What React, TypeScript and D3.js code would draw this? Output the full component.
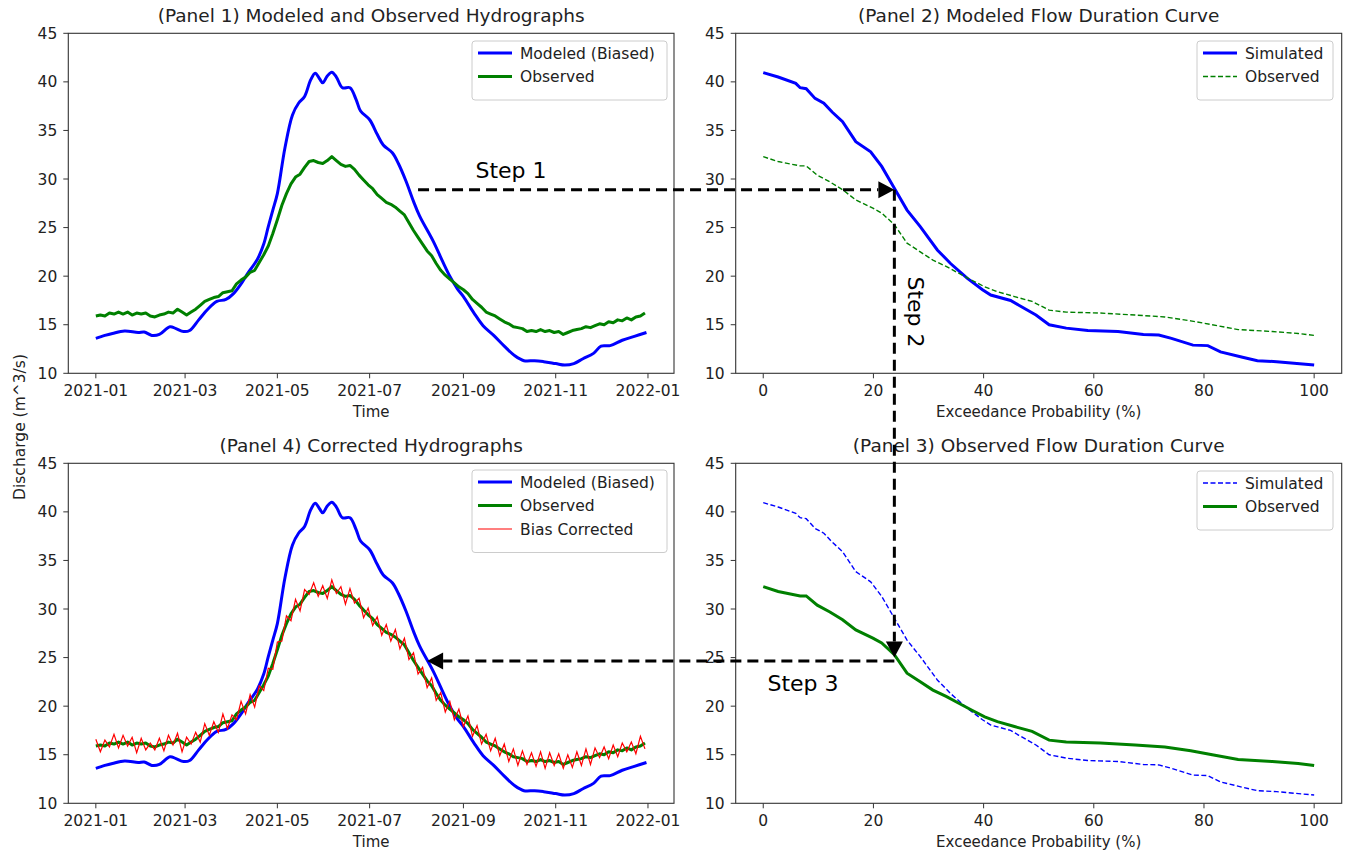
import React from 'react';
import * as d3 from 'd3';

const W = 1346;
const H = 852;
const FONT = "'DejaVu Sans', sans-serif";
const TXT = '#222';

// ---------- DATA ----------
const startDate = '2021-01-01';
const endDate = '2021-12-31';
const seriesStepDays = 3;

// Observed discharge, every 3 days from 2021-01-01
const observed = [
  15.9, 16.0, 15.9, 16.2, 16.1, 16.3, 16.1, 16.3, 16.0, 16.2,
  16.1, 16.2, 15.9, 15.8, 16.0, 16.1, 16.3, 16.2, 16.6, 16.3,
  16.0, 16.3, 16.6, 17.0, 17.4, 17.6, 17.8, 17.9, 18.3, 18.4,
  18.5, 19.2, 19.6, 19.9, 20.4, 20.6, 21.4, 22.2, 23.1, 24.4,
  25.8, 27.3, 28.5, 29.5, 30.2, 30.5, 31.2, 31.8, 31.9, 31.7,
  31.6, 31.9, 32.3, 31.9, 31.5, 31.3, 31.4, 31.0, 30.4, 29.9,
  29.4, 29.0, 28.4, 28.0, 27.6, 27.4, 27.1, 26.7, 26.3, 25.5,
  24.7, 24.0, 23.3, 22.6, 22.1, 21.3, 20.6, 20.1, 19.7, 19.3,
  18.9, 18.6, 18.2, 17.6, 17.2, 16.8, 16.3, 16.1, 15.9, 15.6,
  15.3, 15.1, 14.8, 14.7, 14.6, 14.3, 14.4, 14.3, 14.5, 14.3,
  14.4, 14.2, 14.3, 14.0, 14.2, 14.4, 14.5, 14.6, 14.8, 14.7,
  14.9, 15.1, 15.0, 15.3, 15.2, 15.5, 15.4, 15.7, 15.5, 15.8,
  15.9, 16.2,
];

// Bias-corrected discharge, every 3 days from 2021-01-01
const biasCorrected = [
  16.6, 15.3, 16.5, 15.8, 17.1, 15.7, 17.0, 15.9, 16.8, 15.2,
  16.7, 15.5, 16.2, 15.5, 16.7, 15.4, 17.0, 16.0, 17.2, 15.3,
  16.8, 16.1, 17.3, 16.3, 18.2, 17.0, 18.4, 17.3, 19.2, 17.7,
  19.1, 18.6, 20.5, 19.2, 21.2, 19.9, 22.1, 21.6, 23.9, 23.8,
  26.6, 26.7, 29.3, 28.8, 31.0, 29.8, 32.0, 31.5, 32.7, 31.3,
  32.4, 31.1, 33.0, 31.6, 32.3, 30.5, 32.1, 30.6, 31.1, 29.1,
  30.1, 28.3, 29.2, 27.3, 28.4, 26.7, 27.9, 25.9, 27.0, 24.8,
  25.5, 23.3, 24.0, 21.9, 22.9, 20.6, 21.4, 19.4, 20.5, 18.6,
  19.7, 17.9, 19.0, 16.9, 18.0, 16.1, 17.1, 15.4, 16.7, 14.9,
  16.1, 14.3, 15.6, 13.9, 15.4, 14.0, 15.2, 13.8, 15.3, 13.6,
  15.2, 13.9, 15.1, 13.6, 15.0, 13.7, 15.3, 13.9, 15.6, 14.0,
  15.7, 14.7, 15.8, 14.6, 16.0, 14.8, 16.2, 15.3, 16.3, 15.1,
  16.9, 15.6,
];

// Modeled (biased) discharge: day of year and value
const modeledDays = [
  0, 6, 11, 19, 28, 32, 37, 42, 49, 53, 58, 62, 68, 74, 80, 86, 91, 96, 100, 107,
  111, 114, 117, 120, 125, 130, 134, 138, 142, 145, 148, 150, 153, 156, 159, 163, 168, 172, 175, 181,
  186, 190, 196, 200, 205, 210, 214, 223, 229, 234, 239, 243, 250, 256, 263, 270, 277, 283, 290, 296,
  304, 310, 316, 322, 329, 334, 340, 348, 356, 364,
];
const modeledValues = [
  13.6, 13.9, 14.1, 14.35, 14.2, 14.25, 13.9, 14.0, 14.8, 14.6, 14.3, 14.4, 15.5, 16.6, 17.4, 17.6, 18.2, 19.2, 20.2, 21.8,
  23.3, 25.1, 26.8, 28.5, 33.2, 36.6, 37.8, 38.5, 40.2, 40.9, 40.3, 39.9, 40.6, 41.0, 40.5, 39.4, 39.4, 38.2, 37.0, 36.1,
  34.6, 33.5, 32.7, 31.6, 29.8, 27.7, 26.2, 23.6, 21.6, 20.0, 18.7, 17.9, 16.2, 14.9, 13.9, 12.8, 11.8, 11.3, 11.3, 11.2,
  11.0, 10.85, 11.0, 11.5, 12.05, 12.8, 12.85, 13.4, 13.8, 14.2,
];

// Flow duration curves
const simFdcPct = [
  0, 2.7, 5.9, 6.7, 7.8, 9.4, 11, 12.5, 14.4, 16.8, 19.5, 21.5, 23.8, 26.1, 28.5, 31.6, 34, 37, 39.8,
  41.3, 44.9, 46.4, 49.5, 51.9, 55, 58.9, 64.4, 69, 71.8, 74.1, 78, 80.7, 83, 87, 89.7, 93.2, 100,
];
const simFdcVal = [
  40.95, 40.5, 39.85, 39.4, 39.3, 38.3, 37.8, 36.9, 35.9, 33.85, 32.8, 31.3, 29.05, 26.8, 25.1, 22.7, 21.3, 19.8, 18.6,
  18.06, 17.5, 17.0, 16.0, 15.0, 14.65, 14.4, 14.3, 14.0, 13.95, 13.6, 12.9, 12.85, 12.2, 11.65, 11.3, 11.2, 10.85,
];
const obsFdcPct = [
  0, 2.7, 6.7, 7.8, 9.8, 12.1, 14.4, 16.8, 19.9, 21.5, 23.8, 26.1, 28.5, 30.8, 33.2, 35.5, 37.8, 40.2,
  42.5, 45.6, 48.8, 51.9, 55, 61.2, 67.5, 72.9, 77.6, 81.5, 86.2, 92.4, 97.1, 100,
];
const obsFdcVal = [
  32.3, 31.8, 31.35, 31.35, 30.4, 29.7, 28.9, 27.85, 27.0, 26.5, 25.3, 23.4, 22.5, 21.65, 21.0, 20.3, 19.6, 18.9,
  18.4, 17.9, 17.4, 16.5, 16.3, 16.2, 16.0, 15.8, 15.4, 15.0, 14.5, 14.3, 14.1, 13.9,
];

// Ticks
const yTicks = [10, 15, 20, 25, 30, 35, 40, 45];
const dateTicks = ['2021-01-01', '2021-03-01', '2021-05-01', '2021-07-01', '2021-09-01', '2021-11-01', '2022-01-01'];
const pctTicks = [0, 20, 40, 60, 80, 100];

// Step annotations
const step1 = { fromDate: '2021-08-02', value: 28.9, toPct: 23.8 };
const step2 = { pct: 23.8, toValue: 25.0 };
const step3 = { value: 24.65, toDate: '2021-08-08' };

// ---------- LAYOUT ----------
const L = { x0: 68.3, x1: 674 };
const R = { x0: 735.7, x1: 1341.7 };
const T = { y0: 33.3, y1: 373.3 };
const B = { y0: 463.3, y1: 803.3 };

const BLUE = '#0000ff';
const GREEN = '#008000';
const RED = '#ff0000';

const parse = (s: string) => {
  const [y, m, d] = s.split('-').map(Number);
  return new Date(y, m - 1, d);
};
const addDays = (d: Date, n: number) => new Date(d.getFullYear(), d.getMonth(), d.getDate() + n);

const t0 = parse(startDate);
const t1 = parse(endDate);
const span = t1.getTime() - t0.getTime();
const dateDomain = [new Date(t0.getTime() - span * 0.05), new Date(t1.getTime() + span * 0.05)];

const xDateL = d3.scaleTime().domain(dateDomain).range([L.x0, L.x1]);
const xPctR = d3.scaleLinear().domain([-5, 105]).range([R.x0, R.x1]);
const yTop = d3.scaleLinear().domain([10, 45]).range([T.y1, T.y0]);
const yBot = d3.scaleLinear().domain([10, 45]).range([B.y1, B.y0]);

type Pt = [number, number];

const obsPts = (xs: any) => observed.map((v, i) => [xs(addDays(t0, i * seriesStepDays)), v] as Pt);
const corrPts = (xs: any) => biasCorrected.map((v, i) => [xs(addDays(t0, i * seriesStepDays)), v] as Pt);
const modPts = (xs: any) => modeledValues.map((v, i) => [xs(addDays(t0, modeledDays[i])), v] as Pt);

function path(pts: Pt[], ys: any, curve: any = d3.curveLinear) {
  return d3.line<Pt>().x((p) => p[0]).y((p) => ys(p[1])).curve(curve)(pts) || '';
}

function Axes(props: any) {
  const { x0, x1, y0, y1, ys, xTicks, title, xlabel, id, children } = props;
  return (
    <g>
      <defs>
        <clipPath id={id}>
          <rect x={x0} y={y0} width={x1 - x0} height={y1 - y0} />
        </clipPath>
      </defs>
      <g clipPath={`url(#${id})`}>{children}</g>
      <rect x={x0} y={y0} width={x1 - x0} height={y1 - y0} fill="none" stroke="#333" strokeWidth={1.1} />
      {yTicks.map((t) => (
        <g key={'y' + t}>
          <line x1={x0 - 5} x2={x0} y1={ys(t)} y2={ys(t)} stroke="#333" strokeWidth={1} />
          <text x={x0 - 11} y={ys(t)} dy="0.36em" textAnchor="end" fontSize={15.5} fill={TXT}>
            {t}
          </text>
        </g>
      ))}
      {xTicks.map((t: any) => (
        <g key={'x' + t.label}>
          <line x1={t.x} x2={t.x} y1={y1} y2={y1 + 5} stroke="#333" strokeWidth={1} />
          <text x={t.x} y={y1 + 23} textAnchor="middle" fontSize={15.5} fill={TXT}>
            {t.label}
          </text>
        </g>
      ))}
      <text x={(x0 + x1) / 2} y={y0 - 11} textAnchor="middle" fontSize={18.5} fill={TXT}>
        {title}
      </text>
      <text x={(x0 + x1) / 2} y={y1 + 43.5} textAnchor="middle" fontSize={15} fill={TXT}>
        {xlabel}
      </text>
    </g>
  );
}

function Legend(props: any) {
  const { x, y, w, items } = props;
  const rowH = 23.5;
  const h = 12 + items.length * rowH;
  return (
    <g>
      <rect x={x} y={y} width={w} height={h} rx={3} fill="white" fillOpacity={0.8} stroke="#ccc" strokeWidth={1} />
      {items.map((it: any, i: number) => {
        const cy = y + 12 + i * rowH;
        return (
          <g key={it.label}>
            <line x1={x + 6} x2={x + 40} y1={cy} y2={cy} stroke={it.color} strokeWidth={it.width} strokeDasharray={it.dash || null} />
            <text x={x + 48} y={cy} dy="0.36em" fontSize={15.5} fill={TXT}>
              {it.label}
            </text>
          </g>
        );
      })}
    </g>
  );
}

function Arrow(props: any) {
  const { x1, y1, x2, y2 } = props;
  const dx = x2 - x1;
  const dy = y2 - y1;
  const len = Math.hypot(dx, dy);
  const ux = dx / len;
  const uy = dy / len;
  const hl = 16;
  const hw = 8.5;
  const bx = x2 - ux * hl;
  const by = y2 - uy * hl;
  const pts = [
    [x2, y2],
    [bx - uy * hw, by + ux * hw],
    [bx + uy * hw, by - ux * hw],
  ];
  return (
    <g>
      <line x1={x1} y1={y1} x2={bx} y2={by} stroke="black" strokeWidth={3} strokeDasharray="11,6" />
      <polygon points={pts.map((p) => p.join(',')).join(' ')} fill="black" />
    </g>
  );
}

export default function App() {
  const dateTickObjs = dateTicks.map((s) => ({ x: xDateL(parse(s)), label: s.slice(0, 7) }));
  const pctTickObjs = pctTicks.map((p) => ({ x: xPctR(p), label: String(p) }));
  const simFdc = simFdcPct.map((p, i) => [xPctR(p), simFdcVal[i]] as Pt);
  const obsFdc = obsFdcPct.map((p, i) => [xPctR(p), obsFdcVal[i]] as Pt);

  const s1y = yTop(step1.value);
  const s1x0 = xDateL(parse(step1.fromDate));
  const s1x1 = xPctR(step1.toPct);
  const s2x = xPctR(step2.pct);
  const s2y1 = yBot(step2.toValue);
  const s3y = yBot(step3.value);
  const s3x1 = xDateL(parse(step3.toDate));

  return (
    <svg width={W} height={H} style={{ position: 'absolute', left: 0, top: 0, background: 'white' }} fontFamily={FONT}>
      <rect width={W} height={H} fill="white" />
      {/* Panel 1 */}
      <Axes id="c1" x0={L.x0} x1={L.x1} y0={T.y0} y1={T.y1} ys={yTop} xTicks={dateTickObjs}
        title="(Panel 1) Modeled and Observed Hydrographs" xlabel="Time">
        <path d={path(modPts(xDateL), yTop, d3.curveCatmullRom)} fill="none" stroke={BLUE} strokeWidth={3} />
        <path d={path(obsPts(xDateL), yTop)} fill="none" stroke={GREEN} strokeWidth={3} strokeLinejoin="round" />
      </Axes>
      <Legend x={472} y={41} w={195} items={[
        { label: 'Modeled (Biased)', color: BLUE, width: 3 },
        { label: 'Observed', color: GREEN, width: 3 },
      ]} />

      {/* Panel 2 */}
      <Axes id="c2" x0={R.x0} x1={R.x1} y0={T.y0} y1={T.y1} ys={yTop} xTicks={pctTickObjs}
        title="(Panel 2) Modeled Flow Duration Curve" xlabel="Exceedance Probability (%)">
        <path d={path(simFdc, yTop)} fill="none" stroke={BLUE} strokeWidth={3} />
        <path d={path(obsFdc, yTop)} fill="none" stroke={GREEN} strokeWidth={1.4} strokeDasharray="5,2.5" />
      </Axes>
      <Legend x={1197} y={41} w={136} items={[
        { label: 'Simulated', color: BLUE, width: 3 },
        { label: 'Observed', color: GREEN, width: 1.4, dash: '5,2.5' },
      ]} />

      {/* Panel 4 */}
      <Axes id="c4" x0={L.x0} x1={L.x1} y0={B.y0} y1={B.y1} ys={yBot} xTicks={dateTickObjs}
        title="(Panel 4) Corrected Hydrographs" xlabel="Time">
        <path d={path(modPts(xDateL), yBot, d3.curveCatmullRom)} fill="none" stroke={BLUE} strokeWidth={3} />
        <path d={path(obsPts(xDateL), yBot)} fill="none" stroke={GREEN} strokeWidth={3} strokeLinejoin="round" />
        <path d={path(corrPts(xDateL), yBot)} fill="none" stroke={RED} strokeWidth={1.2} />
      </Axes>
      <Legend x={472} y={470} w={195} items={[
        { label: 'Modeled (Biased)', color: BLUE, width: 3 },
        { label: 'Observed', color: GREEN, width: 3 },
        { label: 'Bias Corrected', color: RED, width: 1.2 },
      ]} />

      {/* Panel 3 */}
      <Axes id="c3" x0={R.x0} x1={R.x1} y0={B.y0} y1={B.y1} ys={yBot} xTicks={pctTickObjs}
        title="(Panel 3) Observed Flow Duration Curve" xlabel="Exceedance Probability (%)">
        <path d={path(simFdc, yBot)} fill="none" stroke={BLUE} strokeWidth={1.4} strokeDasharray="5,2.5" />
        <path d={path(obsFdc, yBot)} fill="none" stroke={GREEN} strokeWidth={3} />
      </Axes>
      <Legend x={1197} y={471} w={136} items={[
        { label: 'Simulated', color: BLUE, width: 1.4, dash: '5,2.5' },
        { label: 'Observed', color: GREEN, width: 3 },
      ]} />

      {/* Shared y label */}
      <text transform={`translate(25,427) rotate(-90)`} textAnchor="middle" fontSize={15.5} fill={TXT}>
        Discharge (m^3/s)
      </text>

      {/* Step annotations */}
      <Arrow x1={s1x0} y1={s1y} x2={s1x1} y2={s1y} />
      <text x={511} y={170} dy="0.36em" textAnchor="middle" fontSize={22} fill="black">Step 1</text>
      <Arrow x1={s2x} y1={s1y} x2={s2x} y2={s2y1} />
      <text transform={`translate(908,312) rotate(90)`} textAnchor="middle" fontSize={22} fill="black">Step 2</text>
      <Arrow x1={s2x} y1={s3y} x2={s3x1} y2={s3y} />
      <text x={803} y={683} dy="0.36em" textAnchor="middle" fontSize={22} fill="black">Step 3</text>
    </svg>
  );
}
